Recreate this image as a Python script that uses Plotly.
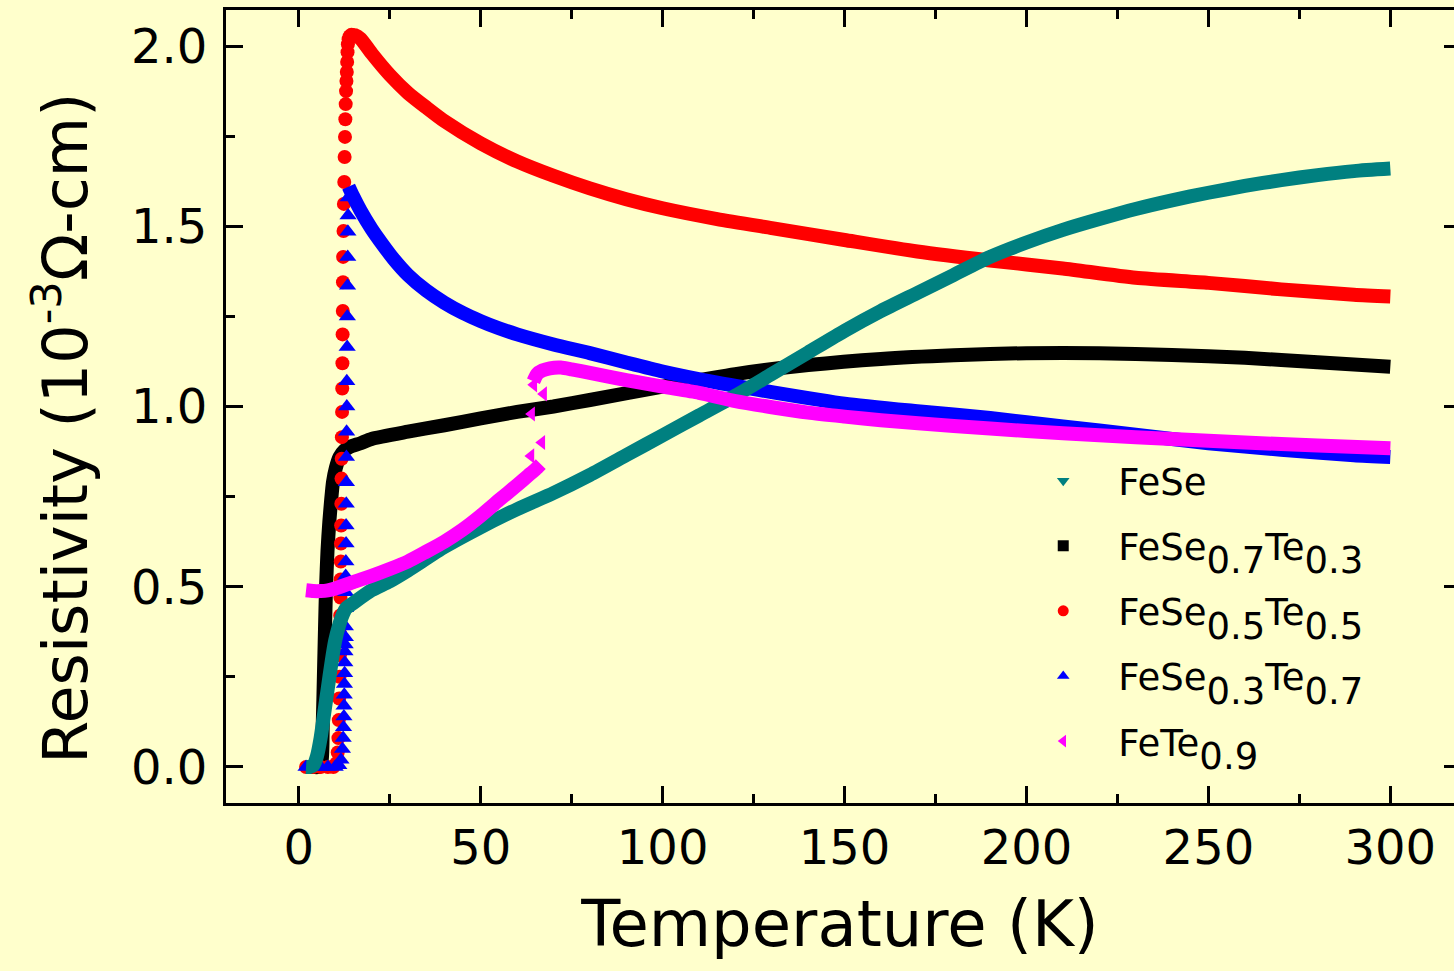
import plotly.graph_objects as go

# ---- FeSe ----
fese_T = [2, 3, 4, 5, 6, 7, 8, 9, 10, 11, 12, 13, 15, 20, 25, 30, 40, 50, 60, 70,
          80, 90, 100, 110, 120, 130, 140, 150, 160, 170, 180, 190, 200, 210, 220,
          230, 240, 250, 260, 270, 280, 290, 300]
fese_rho = [0.0, 0.0, 0.005, 0.03, 0.08, 0.15, 0.22, 0.29, 0.35, 0.39, 0.42, 0.44, 0.455,
            0.49, 0.515, 0.545, 0.61, 0.665, 0.715, 0.76, 0.81, 0.865, 0.92, 0.975, 1.03,
            1.09, 1.15, 1.21, 1.265, 1.315, 1.365, 1.415, 1.455, 1.49, 1.52, 1.548, 1.572,
            1.593, 1.612, 1.628, 1.642, 1.653, 1.66]

# ---- FeSe0.7Te0.3 ----
s73_T = [2, 4, 5.5, 6.3, 6.6, 6.9, 7.2, 7.5, 7.9, 8.4, 8.9, 9.4, 10.2, 11.2, 12.5, 14,
         17, 20, 30, 40, 50, 60, 70, 80, 100, 120, 140, 160, 180, 200, 220, 240, 260,
         280, 300]
s73_rho = [0.0, 0.0, 0.0, 0.02, 0.12, 0.25, 0.38, 0.5, 0.6, 0.68, 0.74, 0.79, 0.83, 0.86,
           0.878, 0.888, 0.898, 0.91, 0.93, 0.948, 0.967, 0.985, 1.0, 1.018, 1.055, 1.09,
           1.115, 1.132, 1.142, 1.148, 1.148, 1.143, 1.135, 1.123, 1.11]

# ---- FeSe0.5Te0.5 : superconducting transition ----
s55_tr_T = [2, 4, 6, 8, 9.5, 10.3, 10.7, 10.9, 11.0, 11.1, 11.2, 11.3, 11.35, 11.4, 11.45,
            11.5, 11.55, 11.6, 11.65, 11.7, 11.75, 11.8, 11.85, 11.9, 11.95, 12.0, 12.05,
            12.1, 12.15, 12.2, 12.3, 12.4, 12.5, 12.6, 12.7, 12.8, 12.9, 13.0, 13.1, 13.2,
            13.3, 13.4, 13.5, 13.7, 14.0]
s55_tr_rho = [0.0, 0.0, 0.0, 0.0, 0.0, 0.01, 0.04, 0.08, 0.13, 0.19, 0.25, 0.31, 0.37, 0.42,
              0.47, 0.52, 0.57, 0.62, 0.67, 0.73, 0.8, 0.855, 0.915, 0.985, 1.05, 1.12, 1.2,
              1.265, 1.345, 1.415, 1.487, 1.562, 1.623, 1.692, 1.748, 1.797, 1.839, 1.875,
              1.903, 1.928, 1.956, 1.983, 2.005, 2.019, 2.027]
# ---- FeSe0.5Te0.5 : normal state ----
s55_T = [14.5, 15.5, 17, 20, 25, 30, 35, 40, 50, 60, 70, 80, 90, 100, 115, 130, 150, 170,
         190, 210, 230, 250, 270, 290, 300]
s55_rho = [2.03, 2.03, 2.02, 1.98, 1.92, 1.87, 1.83, 1.792, 1.73, 1.68, 1.64, 1.605, 1.575,
           1.55, 1.52, 1.495, 1.462, 1.43, 1.405, 1.383, 1.357, 1.343, 1.325, 1.31, 1.305]

# ---- FeSe0.3Te0.7 : superconducting transition ----
s37_tr_T = [2, 4, 6, 8, 10, 11, 11.6, 12.0, 12.2, 12.3, 12.4, 12.45, 12.5, 12.55, 12.6,
            12.65, 12.7, 12.75, 12.8, 12.8, 12.85, 12.9, 12.9, 12.95, 13.0, 13.0, 13.05,
            13.1, 13.1, 13.15, 13.2, 13.2, 13.3, 13.35, 13.4, 13.45, 13.5, 13.55, 13.6]
s37_tr_rho = [0.0, 0.0, 0.0, 0.0, 0.0, 0.005, 0.02, 0.05, 0.08, 0.11, 0.14, 0.17, 0.2,
              0.23, 0.26, 0.29, 0.32, 0.34, 0.36, 0.39, 0.44, 0.485, 0.53, 0.57, 0.62,
              0.67, 0.73, 0.79, 0.86, 0.93, 1.0, 1.07, 1.165, 1.25, 1.335, 1.415, 1.485,
              1.53, 1.58]
# ---- FeSe0.3Te0.7 : normal state ----
s37_T = [13.7, 15, 17, 20, 23, 26, 30, 35, 40, 45, 50, 55, 60, 70, 80, 90, 100, 115,
         130, 150, 170, 190, 210, 230, 250, 270, 290, 300]
s37_rho = [1.61, 1.582, 1.543, 1.493, 1.45, 1.41, 1.365, 1.322, 1.288, 1.26, 1.237, 1.217,
           1.2, 1.172, 1.148, 1.122, 1.097, 1.066, 1.04, 1.008, 0.987, 0.968, 0.945,
           0.922, 0.898, 0.88, 0.865, 0.86]

# ---- FeTe0.9 ----
fete_lo_T = [2, 4, 6, 8, 10, 15, 20, 25, 30, 35, 40, 45, 50, 55, 60, 63, 65, 66.5]
fete_lo_rho = [0.49, 0.488, 0.488, 0.49, 0.495, 0.513, 0.53, 0.549, 0.57, 0.597, 0.625,
               0.658, 0.697, 0.74, 0.782, 0.808, 0.825, 0.84]
fete_jump_T = [63.8, 66.8, 64.0, 67.3, 64.6]
fete_jump_rho = [0.863, 0.90, 0.979, 1.035, 1.06]
fete_hi_T = [64.5, 65.5, 67, 69, 72, 75, 80, 90, 100, 110, 120, 130, 140, 150, 160, 180,
             200, 220, 240, 260, 280, 300]
fete_hi_rho = [1.07, 1.09, 1.1, 1.106, 1.108, 1.103, 1.093, 1.073, 1.055, 1.038, 1.015,
               0.998, 0.983, 0.972, 0.962, 0.946, 0.932, 0.92, 0.91, 0.9, 0.892, 0.884]


def formula(*parts):
    # full-size subscripts, lowered by two levels of <sub>
    out = ""
    for p in parts:
        if isinstance(p, tuple):
            out += f"<sub><sub><span style='font-size:37px'>{p[0]}</span></sub></sub>"
        else:
            out += p
    return out


legend_names = ["FeSe",
                formula("FeSe", ("0.7",), "Te", ("0.3",)),
                formula("FeSe", ("0.5",), "Te", ("0.5",)),
                formula("FeSe", ("0.3",), "Te", ("0.7",)),
                formula("FeTe", ("0.9",))]

C_TEAL, C_BLACK, C_RED, C_BLUE, C_MAG = "#008080", "#000000", "#FF0000", "#0000FF", "#FF00FF"
BG = "#FFFFCC"
FONT = "DejaVu Sans"
LW = 14

fig = go.Figure()

# legend entries (symbols only)
leg_styles = [(C_TEAL, "triangle-down"), (C_BLACK, "square"), (C_RED, "circle"),
              (C_BLUE, "triangle-up"), (C_MAG, "triangle-left")]
for i, (name, (col, sym)) in enumerate(zip(legend_names, leg_styles)):
    fig.add_trace(go.Scatter(x=[None], y=[None], mode="markers", name=name,
                             legendgroup=f"g{i}",
                             marker=dict(color=col, symbol=sym, size=11)))


def band(x, y, col):
    fig.add_trace(go.Scatter(x=x, y=y, mode="lines", showlegend=False,
                             line=dict(color=col, width=LW, shape="spline",
                                       smoothing=0.6)))


def dots(x, y, col, sym, size):
    fig.add_trace(go.Scatter(x=x, y=y, mode="markers", showlegend=False,
                             marker=dict(color=col, symbol=sym, size=size)))


band(s73_T, s73_rho, C_BLACK)
dots(s55_tr_T, s55_tr_rho, C_RED, "circle", 14)
band(s55_T, s55_rho, C_RED)
dots(s55_T[:1], s55_rho[:1], C_RED, "circle", 15)
dots(s37_tr_T, s37_tr_rho, C_BLUE, "triangle-up", 15)
band(s37_T, s37_rho, C_BLUE)
band(fese_T, fese_rho, C_TEAL)
band(fete_lo_T, fete_lo_rho, C_MAG)
dots(fete_jump_T, fete_jump_rho, C_MAG, "triangle-left", 13)
band(fete_hi_T, fete_hi_rho, C_MAG)

# a copy of the y axis on the right carries only the mirrored ticks
fig.add_trace(go.Scatter(x=[None], y=[None], yaxis="y2", showlegend=False))

axis_font = dict(family=FONT, size=48, color="black")
fig.update_layout(
    width=1454, height=971,
    margin=dict(l=226, r=0, t=10, b=168),
    paper_bgcolor=BG, plot_bgcolor=BG,
    font=dict(family=FONT, color="black"),
    xaxis=dict(range=[-20, 317.5], showgrid=False, zeroline=False,
               showline=True, linecolor="black", linewidth=3, mirror="ticks",
               ticks="inside", ticklen=17, tickwidth=3, tickcolor="black",
               tickvals=[0, 50, 100, 150, 200, 250, 300],
               minor=dict(ticks="inside", ticklen=9, tickwidth=3, dtick=25,
                          tick0=0, tickcolor="black", showgrid=False),
               tickfont=axis_font, ticklabelstandoff=0,
               title=dict(text="Temperature (K)", font=dict(family=FONT, size=64),
                          standoff=28)),
    yaxis=dict(range=[-0.1, 2.1], showgrid=False, zeroline=False,
               showline=True, linecolor="black", linewidth=3, mirror=False,
               ticks="inside", ticklen=17, tickwidth=3, tickcolor="black",
               tickvals=[0, 0.5, 1.0, 1.5, 2.0],
               ticktext=["0.0", "0.5", "1.0", "1.5", "2.0"],
               minor=dict(ticks="inside", ticklen=9, tickwidth=3, dtick=0.25,
                          tick0=0, tickcolor="black", showgrid=False),
               tickfont=axis_font, ticklabelstandoff=6),
    yaxis2=dict(range=[-0.1, 2.1], overlaying="y", side="right", showgrid=False,
                zeroline=False, showline=False, ticks="inside", ticklen=10,
                tickwidth=3, tickcolor="black", tickvals=[0, 0.5, 1.0, 1.5, 2.0],
                showticklabels=False),
    legend=dict(x=0.637, y=0.445, xanchor="left", yanchor="top",
                bgcolor="rgba(0,0,0,0)", font=dict(family=FONT, size=37),
                traceorder="grouped", tracegroupgap=14, itemwidth=100),
    annotations=[dict(text="Resistivity (10<sup>-3</sup>\u03a9-cm)",
                      xref="paper", yref="paper", x=-0.1336, y=0.473,
                      xanchor="center", yanchor="middle", textangle=-90,
                      showarrow=False, font=dict(family=FONT, size=62))],
    showlegend=True,
)

fig.write_html("out.html")
